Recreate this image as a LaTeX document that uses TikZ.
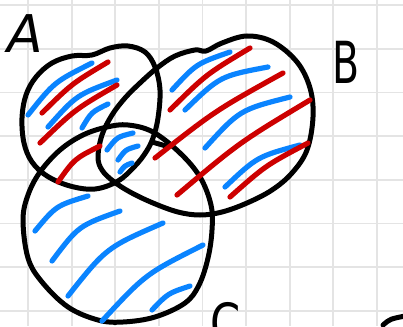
\documentclass[tikz,border=0pt]{standalone}
\usepackage{fontspec}
\usetikzlibrary{calc}
\newfontfamily\handfont{DejaVu Sans}
\definecolor{hatchblue}{RGB}{10,132,255}
\definecolor{hatchred}{RGB}{205,0,0}
\definecolor{gridgray}{RGB}{228,228,228}
\newcommand\hatchline[4]{\draw[#1] (#2) .. controls ($(#2)!0.5!(#3)!#4!90:(#3)$) .. (#3);}
\begin{document}
\begin{tikzpicture}[x=1pt,y=-1pt,
  outline/.style={line width=5pt, line cap=round, line join=round, black},
  bluehatch/.style={line width=5.2pt, line cap=round, hatchblue},
  redhatch/.style={line width=5.2pt, line cap=round, hatchred},
  gridline/.style={line width=1.8pt, gridgray},
  letter/.style={inner sep=0pt, text=black}]
\useasboundingbox (0,0) rectangle (403,326);
\clip (0,0) rectangle (403,326);
\fill[white] (0,0) rectangle (403,326);
% grid paper
\foreach \k in {0,...,8} \draw[gridline] ({28+43.6*\k},0) -- ({28+43.6*\k},326);
\foreach \k in {0,...,7} \draw[gridline] (0,{5+43.7*\k}) -- (403,{5+43.7*\k});

% outlines
% A
\draw[outline] plot[smooth cycle, tension=0.6] coordinates {
  (160,90) (158,118) (153,138) (146,152) (135,166) (118,181) (95,189)
  (70,186) (47,176) (32,162) (24,143) (22,118) (26,95) (36,77) (52,63)
  (72,56) (92,55) (110,48) (128,46) (145,52) (155,67)};
\coordinate (spurA) at (152,142);
\coordinate (spurB) at (166,146);
\draw[outline] (spurA) -- (spurB);
% B
\draw[outline] plot[smooth cycle, tension=0.6] coordinates {
  (98,157) (102,135) (112,115) (125,98) (140,83) (157,68) (175,56)
  (195,50) (206,51) (222,43) (247,36) (273,42) (297,62) (310,88)
  (313,117) (307,150) (292,173) (272,190) (247,203) (222,212) (200,215)
  (178,212) (153,203) (130,192) (113,181) (102,170)};
% C
\draw[outline] plot[smooth cycle, tension=0.6] coordinates {
  (23,220) (28,195) (40,172) (60,150) (83,135) (107,127) (128,125)
  (153,132) (180,153) (200,177) (211,205) (212,230) (208,258) (199,285)
  (185,303) (155,317) (123,322) (98,320) (68,307) (42,282) (28,258)};

% hatching in A
\hatchline{bluehatch}{28,115}{92,63}{0.22}
\hatchline{redhatch}{42,113}{108,62}{0.12}
\hatchline{bluehatch}{48,127}{117,80}{0.25}
\hatchline{redhatch}{40,143}{117,85}{0.12}
\hatchline{bluehatch}{82,128}{108,104}{0.3}
\hatchline{redhatch}{58,182}{100,146}{0.25}
% hatching in the middle
\hatchline{bluehatch}{107,150}{133,133}{0.35}
\hatchline{bluehatch}{118,160}{138,146}{0.35}
\hatchline{bluehatch}{120,172}{132,163}{0.3}
% hatching in C
\hatchline{bluehatch}{35,231}{88,196}{0.3}
\hatchline{bluehatch}{52,261}{120,211}{0.3}
\hatchline{bluehatch}{68,296}{163,223}{0.25}
\hatchline{bluehatch}{102,321}{203,245}{0.18}
\hatchline{bluehatch}{152,310}{190,286}{0.25}
% hatching in B
\hatchline{bluehatch}{172,90}{230,52}{0.25}
\hatchline{redhatch}{170,110}{250,48}{0.12}
\hatchline{bluehatch}{185,110}{268,67}{0.3}
\hatchline{redhatch}{155,158}{283,73}{0.08}
\hatchline{bluehatch}{205,148}{290,97}{0.3}
\hatchline{redhatch}{177,195}{310,100}{0.08}
\hatchline{bluehatch}{225,187}{300,145}{0.25}
\hatchline{redhatch}{230,197}{308,143}{0.12}

% labels
\node[letter, font=\handfont\itshape\fontsize{52}{52}\selectfont] (labelA) at (25,34) {A};
\node[letter, xscale=0.68, font=\handfont\fontsize{58}{58}\selectfont] (labelB) at (346,62) {B};
\node[letter, anchor=north, xscale=0.8, font=\handfont\fontsize{54}{54}\selectfont] (labelC) at (226,302) {C};
% cut-off stroke at the lower right corner
\coordinate (cutA) at (383,325);
\coordinate (cutB) at (405,316);
\draw[outline] (cutA) .. controls (390,319) .. (cutB);
\end{tikzpicture}
\end{document}
